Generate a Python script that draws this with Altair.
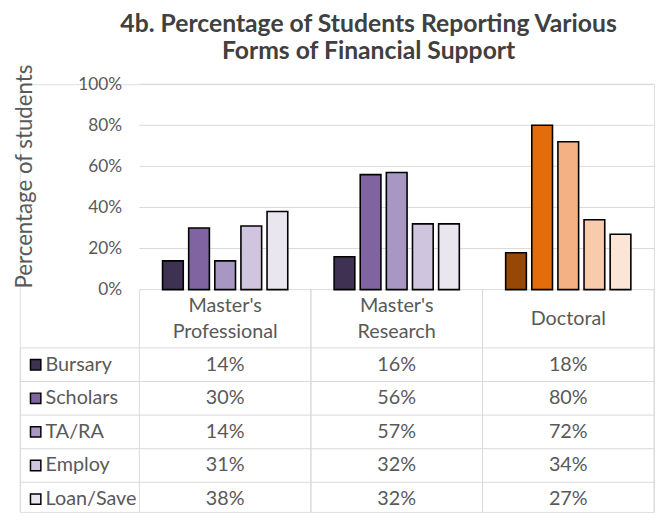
import altair as alt
import pandas as pd

# ---- data -------------------------------------------------------------
groups = ["Master's Professional", "Master's Research", "Doctoral"]
group_labels = ["Master's\nProfessional", "Master's\nResearch", "Doctoral"]
series = ["Bursary", "Scholars", "TA/RA", "Employ", "Loan/Save"]
bursary = [14, 16, 18]
scholars = [30, 56, 80]
ta_ra = [14, 57, 72]
employ = [31, 32, 34]
loan_save = [38, 32, 27]
y_ticks = [0, 20, 40, 60, 80, 100]

purples = ["#3F3151", "#8064A2", "#A897C2", "#D0C5DF", "#EAE6F0"]
oranges = ["#974806", "#E46C0A", "#F4B183", "#F8CBAD", "#FBE5D6"]

# ---- tables -----------------------------------------------------------
rows = []
for s, vals in zip(series, [bursary, scholars, ta_ra, employ, loan_save]):
    for g, v in zip(groups, vals):
        rows.append({"Group": g, "Series": s, "Value": v})
df = pd.DataFrame(rows)
groups_df = pd.DataFrame({"Group": groups, "Label": group_labels})
series_df = pd.DataFrame({"Series": series})
ticks_df = pd.DataFrame({"Value": y_ticks})
one_df = pd.DataFrame({"a": [0]})

keys = ["M " + s for s in series] + ["D " + s for s in series]
color_scale = alt.Scale(domain=keys, range=purples + oranges)

FONT = "Lato"
GRAY = "#595959"
LINE = "#D9D9D9"
TFS = 20

x_scale = alt.Scale(domain=groups, range=[121, 642], paddingInner=0, paddingOuter=0)
yq_scale = alt.Scale(domain=[-108.17, 100], nice=False, zero=False)
yt_scale = alt.Scale(domain=series, range=[267, 437], paddingInner=0, paddingOuter=0)

X = alt.X("Group:N", scale=x_scale, axis=None, sort=groups)

y_axis = alt.Axis(
    values=y_ticks,
    labelExpr="datum.value + '%'",
    domain=False,
    ticks=False,
    grid=False,
    offset=-121,
    labelPadding=18,
    labelFontSize=17.5,
    labelColor=GRAY,
    labelFont=FONT,
    title="Percentage of students",
    titleX=-116,
    titleY=93,
    titleAngle=270,
    titleAlign="center",
    titleBaseline="middle",
    titleFontSize=22.5,
    titleFontWeight="normal",
    titleColor=GRAY,
    titleFont=FONT,
)
YQ = alt.Y("Value:Q", scale=yq_scale, axis=y_axis)

# ---- upper part: bars -------------------------------------------------
grid = alt.Chart(ticks_df).mark_rule(color=LINE, strokeWidth=1).encode(
    y=YQ,
    x=alt.value(121),
    x2=alt.value(642),
)

bars = (
    alt.Chart(df)
    .transform_calculate(
        Key="(datum.Group == 'Doctoral' ? 'D ' : 'M ') + datum.Series"
    )
    .mark_bar(stroke="black", strokeWidth=1.6)
    .encode(
        x=X,
        xOffset=alt.XOffset(
            "Series:N",
            sort=series,
            scale=alt.Scale(domain=series, paddingInner=0.2075, paddingOuter=0.887),
        ),
        y=YQ,
        y2=alt.datum(0),
        color=alt.Color("Key:N", scale=color_scale, legend=None),
    )
)

upper = alt.layer(grid, bars)

# ---- lower part: data table -------------------------------------------
YT = alt.Y("Series:N", scale=yt_scale, axis=None, sort=series)

row_lines = alt.Chart(series_df).mark_rule(color=LINE, strokeWidth=1).encode(
    y=alt.Y("Series:N", scale=yt_scale, axis=None, sort=series, bandPosition=0),
    x=alt.value(0),
    x2=alt.value(642),
)
col_lines_left = alt.Chart(groups_df).mark_rule(color=LINE, strokeWidth=1).encode(
    x=alt.X("Group:N", scale=x_scale, axis=None, sort=groups, bandPosition=0),
    y=alt.value(208),
    y2=alt.value(433),
)
col_lines_right = alt.Chart(groups_df).mark_rule(color=LINE, strokeWidth=1).encode(
    x=alt.X("Group:N", scale=x_scale, axis=None, sort=groups, bandPosition=1),
    y=alt.value(208),
    y2=alt.value(433),
)
left_border = alt.Chart(one_df).mark_rule(color=LINE, strokeWidth=1).encode(
    x=alt.value(0.5),
    y=alt.value(267),
    y2=alt.value(433),
)

header2 = (
    alt.Chart(groups_df)
    .transform_filter("indexof(datum.Label, '\\n') >= 0")
    .mark_text(lineBreak="\n", fontSize=TFS, font=FONT, color=GRAY,
               lineHeight=26, baseline="middle")
    .encode(x=X, y=alt.value(225), text="Label:N")
)
header1 = (
    alt.Chart(groups_df)
    .transform_filter("indexof(datum.Label, '\\n') < 0")
    .mark_text(fontSize=TFS, font=FONT, color=GRAY, baseline="middle")
    .encode(x=X, y=alt.value(238), text="Label:N")
)

cells = (
    alt.Chart(df)
    .transform_calculate(Label="datum.Value + '%'")
    .mark_text(fontSize=TFS, font=FONT, color=GRAY, baseline="middle")
    .encode(x=X, y=YT, text="Label:N")
)

swatches = (
    alt.Chart(series_df)
    .transform_calculate(Key="'M ' + datum.Series")
    .mark_square(size=110, stroke="black", strokeWidth=1.5, opacity=1, filled=True)
    .encode(
        x=alt.value(16),
        y=YT,
        color=alt.Color("Key:N", scale=color_scale, legend=None),
    )
)

names = alt.Chart(series_df).mark_text(
    fontSize=TFS, font=FONT, color=GRAY, align="left", baseline="middle"
).encode(x=alt.value(26), y=YT, text="Series:N")

lower = alt.layer(row_lines, col_lines_left, col_lines_right, left_border,
                  header2, header1, cells, swatches, names)

chart = (
    alt.layer(upper, lower)
    .resolve_scale(y="independent")
    .properties(
        width=642,
        height=433,
        autosize=alt.AutoSizeParams(type="none"),
        padding={"left": 12, "top": 74, "right": 3, "bottom": 0},
        title=alt.TitleParams(
            text=["4b. Percentage of Students Reporting Various",
                  "Forms of Financial Support"],
            fontSize=25,
            font=FONT,
            fontWeight="bold",
            color="#404040",
            anchor="middle",
            dx=32,
            lineHeight=27.5,
            offset=0,
        ),
    )
    .configure_view(strokeWidth=0)
    .configure(background="white")
)

chart.save("out.html", embed_options={"renderer": "svg", "actions": False})
